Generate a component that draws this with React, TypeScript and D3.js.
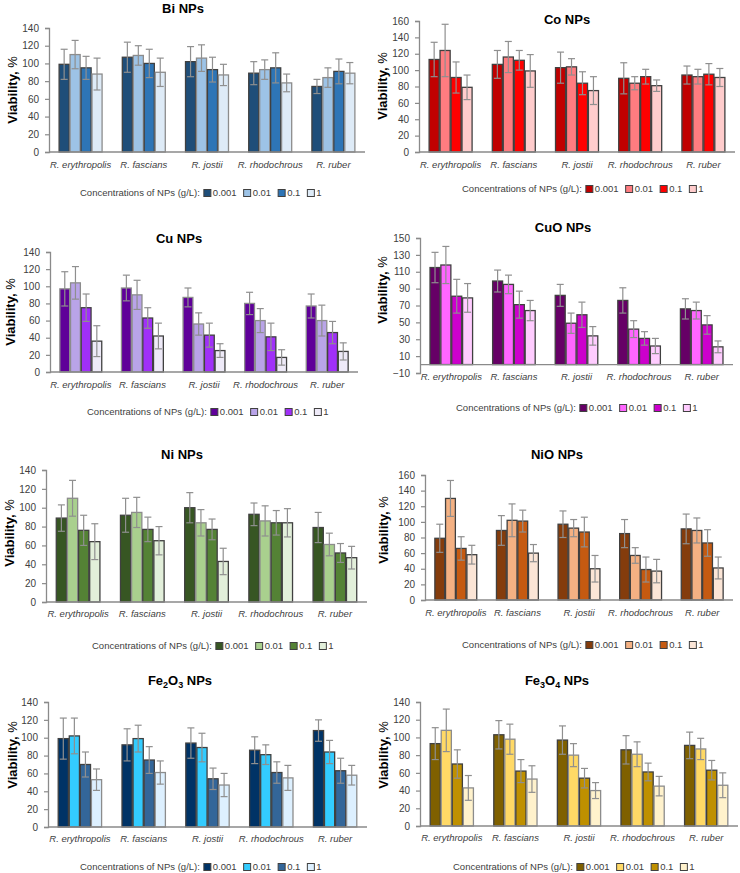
import React, { useEffect, useRef } from "react";
import * as d3 from "d3";

const categories = ["R. erythropolis", "R. fascians", "R. jostii", "R. rhodochrous", "R. ruber"];
const concentrations = ["0.001", "0.01", "0.1", "1"];
const legendTitle = "Concentrations of NPs (g/L):";

const ticks0to140 = [0, 20, 40, 60, 80, 100, 120, 140];
const ticks0to160 = [0, 20, 40, 60, 80, 100, 120, 140, 160];
const ticksCuO = [-10, 10, 30, 50, 70, 90, 110, 130, 150];

// values: one row per category, one value per concentration
const biMeans = [[99, 110, 95, 88], [107, 109, 100, 90], [102, 106, 93, 87], [89, 93, 95, 78], [74, 84, 91, 89]];
const biErrors = [[17, 16, 13, 18], [17, 11, 16, 16], [17, 15, 14, 12], [13, 11, 17, 10], [8, 11, 14, 12]];

const coMeans = [[113, 124, 91, 79], [107, 116, 112, 99], [103, 104, 84, 75], [90, 84, 92, 81], [94, 92, 95, 91]];
const coErrors = [[21, 32, 19, 15], [17, 19, 12, 20], [19, 10, 14, 17], [19, 8, 9, 7], [11, 9, 13, 11]];

const cuMeans = [[97, 104, 75, 36], [98, 90, 63, 42], [87, 56, 43, 25], [80, 60, 41, 17], [77, 60, 46, 24]];
const cuErrors = [[20, 19, 16, 18], [15, 17, 12, 15], [11, 13, 14, 8], [13, 14, 16, 9], [14, 18, 13, 10]];

const cuoMeans = [[115, 118, 81, 79], [99, 95, 71, 64], [82, 49, 59, 34], [76, 42, 31, 22], [66, 64, 47, 21]];
const cuoErrors = [[18, 22, 20, 17], [13, 11, 16, 12], [13, 12, 15, 11], [15, 10, 8, 9], [12, 10, 11, 7]];

const niMeans = [[89, 110, 76, 64], [92, 95, 77, 65], [100, 84, 77, 43], [93, 86, 84, 84], [79, 61, 52, 47]];
const niErrors = [[14, 19, 16, 19], [18, 16, 13, 15], [16, 14, 11, 14], [12, 16, 13, 15], [16, 12, 10, 12]];

const nioMeans = [[79, 130, 66, 58], [89, 102, 101, 60], [97, 92, 87, 40], [85, 57, 39, 37], [91, 89, 73, 41]];
const nioErrors = [[18, 23, 15, 12], [19, 21, 14, 11], [17, 11, 19, 17], [18, 10, 16, 15], [19, 16, 17, 14]];

const fe2o3Means = [[99, 102, 70, 53], [92, 99, 75, 61], [94, 89, 54, 47], [86, 81, 61, 55], [108, 84, 63, 58]];
const fe2o3Errors = [[23, 20, 14, 12], [18, 15, 15, 13], [17, 16, 12, 13], [15, 11, 12, 14], [12, 13, 14, 11]];

const fe3o4Means = [[93, 108, 70, 43], [103, 98, 62, 53], [97, 80, 54, 40], [86, 81, 61, 45], [91, 87, 63, 46]];
const fe3o4Errors = [[18, 24, 16, 14], [16, 17, 13, 15], [16, 13, 11, 9], [16, 14, 10, 11], [15, 12, 11, 14]];

const DARK = "#404040";
const GRAY = "#8c8c8c";

type Panel = {
  title: [string, boolean][];
  means: number[][];
  errors: number[][];
  ticks: number[];
  colors: string[];
  strokes: string[];
  x0: number; x1: number; yTop: number; yBot: number;
  titleX: number; titleY: number;
  ylabX: number; ylabY: number;
  catY: number;
  legX: number; legY: number;
};

const panels: Panel[] = [
  {
    title: [["Bi NPs", false]], means: biMeans, errors: biErrors, ticks: ticks0to140,
    colors: ["#1F4E79", "#9DC3E6", "#2E75B6", "#DEEBF7"], strokes: [DARK, GRAY, DARK, GRAY],
    x0: 49, x1: 365, yTop: 28, yBot: 152, titleX: 183, titleY: 8, ylabX: 12, ylabY: 90, catY: 165, legX: 80, legY: 193,
  },
  {
    title: [["Co NPs", false]], means: coMeans, errors: coErrors, ticks: ticks0to160,
    colors: ["#C00000", "#FF7C80", "#FF0000", "#FFCCCC"], strokes: [DARK, DARK, DARK, DARK],
    x0: 419, x1: 735, yTop: 21, yBot: 152, titleX: 567, titleY: 19, ylabX: 382, ylabY: 86, catY: 165, legX: 462, legY: 189,
  },
  {
    title: [["Cu NPs", false]], means: cuMeans, errors: cuErrors, ticks: ticks0to140,
    colors: ["#5F0099", "#B9A4E8", "#A030F8", "#EEEAF8"], strokes: [GRAY, GRAY, DARK, DARK],
    x0: 50, x1: 358, yTop: 252, yBot: 372, titleX: 179, titleY: 238, ylabX: 10, ylabY: 312, catY: 385, legX: 87, legY: 412,
  },
  {
    title: [["CuO NPs", false]], means: cuoMeans, errors: cuoErrors, ticks: ticksCuO,
    colors: ["#660066", "#FF66FF", "#CC00CC", "#FFCCFF"], strokes: [DARK, DARK, DARK, DARK],
    x0: 420, x1: 733, yTop: 238, yBot: 373, titleX: 563, titleY: 227, ylabX: 382, ylabY: 290, catY: 377, legX: 456, legY: 408,
  },
  {
    title: [["Ni NPs", false]], means: niMeans, errors: niErrors, ticks: ticks0to140,
    colors: ["#375623", "#A9D08E", "#548235", "#E2EFDA"], strokes: [DARK, GRAY, DARK, DARK],
    x0: 46, x1: 367, yTop: 470, yBot: 602, titleX: 182, titleY: 454, ylabX: 9, ylabY: 533, catY: 614, legX: 92, legY: 646,
  },
  {
    title: [["NiO NPs", false]], means: nioMeans, errors: nioErrors, ticks: ticks0to160,
    colors: ["#843C0C", "#F4B183", "#C55A11", "#FBE5D6"], strokes: [DARK, DARK, DARK, DARK],
    x0: 425, x1: 733, yTop: 475, yBot: 600, titleX: 557, titleY: 454, ylabX: 383, ylabY: 530, catY: 613, legX: 462, legY: 645,
  },
  {
    title: [["Fe", false], ["2", true], ["O", false], ["3", true], [" NPs", false]], means: fe2o3Means, errors: fe2o3Errors, ticks: ticks0to140,
    colors: ["#003366", "#33CCFF", "#336699", "#DDF0FF"], strokes: [DARK, DARK, DARK, GRAY],
    x0: 48, x1: 367, yTop: 702, yBot: 827, titleX: 180, titleY: 680, ylabX: 12, ylabY: 755, catY: 839, legX: 80, legY: 867,
  },
  {
    title: [["Fe", false], ["3", true], ["O", false], ["4", true], [" NPs", false]], means: fe3o4Means, errors: fe3o4Errors, ticks: ticks0to140,
    colors: ["#7F6000", "#FFD966", "#BF9000", "#FFF2CC"], strokes: [DARK, GRAY, DARK, GRAY],
    x0: 420, x1: 738, yTop: 702, yBot: 826, titleX: 557, titleY: 680, ylabX: 383, ylabY: 755, catY: 838, legX: 453, legY: 867,
  },
];

const SANS = "'Liberation Sans', Arial, sans-serif";

export default function App() {
  const ref = useRef<SVGSVGElement | null>(null);

  useEffect(() => {
    const svg = d3.select(ref.current);
    svg.selectAll("*").remove();

    panels.forEach((p) => {
      const g = svg.append("g");
      const tMin = p.ticks[0];
      const tMax = p.ticks[p.ticks.length - 1];
      const y = d3.scaleLinear().domain([tMin, tMax]).range([p.yBot, p.yTop]);
      const x = d3.scaleBand<string>().domain(categories).range([p.x0, p.x1]);
      const groupW = x.bandwidth() * 0.68;
      const offset = x.bandwidth() * 0.16;
      const xs = d3.scaleBand<string>().domain(concentrations).range([0, groupW]).paddingInner(0.08);

      // bars
      categories.forEach((c, ci) => {
        concentrations.forEach((s, si) => {
          const v = p.means[ci][si];
          const e = p.errors[ci][si];
          const bx = (x(c) as number) + offset + (xs(s) as number);
          const bw = xs.bandwidth();
          g.append("rect")
            .attr("x", bx)
            .attr("y", Math.min(y(v), y(0)))
            .attr("width", bw)
            .attr("height", Math.abs(y(0) - y(v)))
            .attr("fill", p.colors[si])
            .attr("stroke", p.strokes[si])
            .attr("stroke-width", 1.3);
          const cx = bx + bw / 2;
          const eg = g.append("g").attr("stroke", "#8f8f8f").attr("stroke-width", 1.2);
          eg.append("line").attr("x1", cx).attr("x2", cx).attr("y1", y(v - e)).attr("y2", y(v + e));
          eg.append("line").attr("x1", cx - 3.5).attr("x2", cx + 3.5).attr("y1", y(v - e)).attr("y2", y(v - e));
          eg.append("line").attr("x1", cx - 3.5).attr("x2", cx + 3.5).attr("y1", y(v + e)).attr("y2", y(v + e));
        });
      });

      // x axis line at 0
      g.append("line")
        .attr("x1", p.x0).attr("x2", p.x1)
        .attr("y1", y(0)).attr("y2", y(0))
        .attr("stroke", "#8a8a8a").attr("stroke-width", 1.3);

      // y axis
      const yAxis = d3.axisLeft(y).tickValues(p.ticks).tickSize(4).tickPadding(6).tickFormat(d3.format("d"));
      const ya = g.append("g").attr("transform", `translate(${p.x0},0)`).call(yAxis);
      ya.select(".domain").attr("stroke", "#8a8a8a").attr("stroke-width", 1.3);
      ya.selectAll(".tick line").attr("stroke", "#8a8a8a").attr("stroke-width", 1.2);
      ya.selectAll(".tick text").attr("fill", "#404040").attr("font-size", 10).attr("font-family", SANS);

      // category labels
      categories.forEach((c) => {
        g.append("text")
          .attr("x", (x(c) as number) + x.bandwidth() / 2)
          .attr("y", p.catY)
          .attr("dy", "0.35em")
          .attr("text-anchor", "middle")
          .attr("font-family", SANS)
          .attr("font-style", "italic")
          .attr("font-size", 9.5)
          .attr("fill", "#404040")
          .text(c);
      });

      // title
      const tt = g.append("text")
        .attr("x", p.titleX).attr("y", p.titleY).attr("dy", "0.35em")
        .attr("text-anchor", "middle")
        .attr("font-family", SANS)
        .attr("font-weight", "bold")
        .attr("font-size", 13)
        .attr("fill", "#000");
      p.title.forEach(([txt, sub], i) => {
        const ts = tt.append("tspan").text(txt);
        if (sub) ts.attr("font-size", 9).attr("dy", 3);
        else if (i > 0 && p.title[i - 1][1]) ts.attr("dy", -3);
      });

      // y label
      const yl = g.append("text")
        .attr("transform", `translate(${p.ylabX},${p.ylabY}) rotate(-90)`)
        .attr("dy", "0.35em")
        .attr("text-anchor", "middle")
        .attr("font-family", SANS)
        .attr("font-size", 13)
        .attr("fill", "#000");
      yl.append("tspan").attr("font-weight", "bold").text("Viability, ");
      yl.append("tspan").attr("font-weight", "normal").text("%");

      // legend
      const lg = g.append("g").attr("transform", `translate(${p.legX},${p.legY})`);
      const lt = lg.append("text")
        .attr("x", 0).attr("y", 0).attr("dy", "0.35em")
        .attr("font-family", SANS).attr("font-size", 9.5).attr("fill", "#404040")
        .text(legendTitle);
      let cur = ((lt.node() as SVGTextElement).getComputedTextLength()) + 4;
      concentrations.forEach((s, si) => {
        lg.append("rect")
          .attr("x", cur).attr("y", -3.5).attr("width", 7).attr("height", 7)
          .attr("fill", p.colors[si]).attr("stroke", DARK).attr("stroke-width", 1);
        const t = lg.append("text")
          .attr("x", cur + 9).attr("y", 0).attr("dy", "0.35em")
          .attr("font-family", SANS).attr("font-size", 9.5).attr("fill", "#404040")
          .text(s);
        cur += 9 + (t.node() as SVGTextElement).getComputedTextLength() + 7;
      });
    });
  }, []);

  return (
    <svg
      ref={ref}
      width={740}
      height={873}
      style={{ position: "absolute", left: 0, top: 0, background: "#fff" }}
    />
  );
}
